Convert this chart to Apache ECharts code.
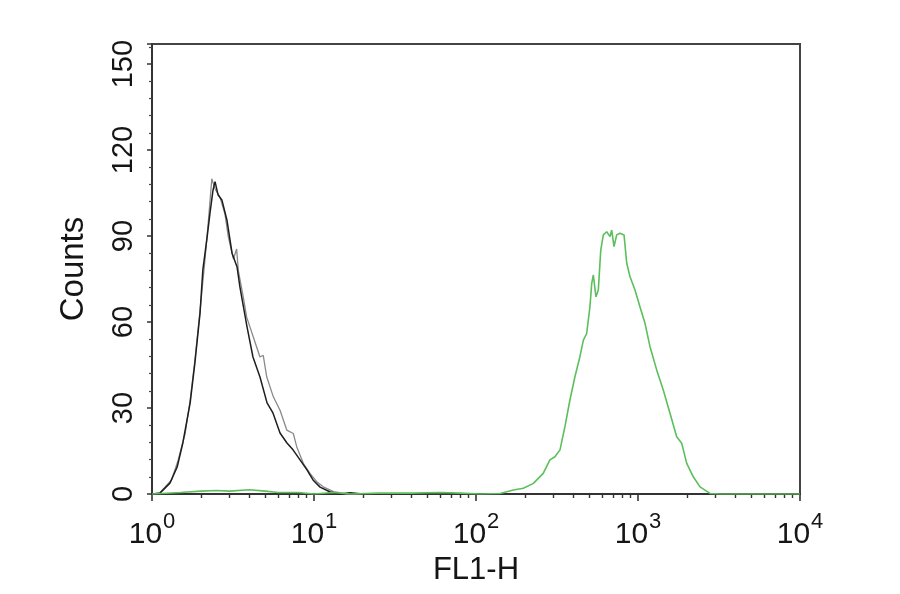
<!DOCTYPE html>
<html>
<head>
<meta charset="utf-8">
<script src="https://cdn.jsdelivr.net/npm/echarts@6/dist/echarts.min.js"></script>
<style>html,body{margin:0;padding:0;background:#fff}#c{width:900px;height:594px}</style>
</head>
<body>
<div id="c"></div>
<script>
// FL1-H values (x) and counts (y)
const blackX = [1.01,1.12,1.29,1.43,1.55,1.72,1.84,1.98,2.06,2.19,2.28,2.38,2.45,2.56,2.70,2.90,3.12,3.35,3.49,3.86,4.20,4.64,5.13,5.58,6.17,6.81,7.42,8.20,9.05,9.86,10.9,12.6,14.5,16.7,20];
const blackY = [0,0.3,3.8,9.4,17.8,31.8,45.7,63.2,78.2,89.7,98,106,109,104.3,102.6,95.6,84,79.2,72.2,58.3,47.8,40.8,31.8,28.3,21.3,17.8,15.4,11.9,8.4,4.9,2.4,0.7,0,0.4,0];
const grayX = [1.02,1.12,1.32,1.45,1.60,1.72,1.84,1.98,2.12,2.23,2.34,2.45,2.63,2.82,2.96,3.18,3.33,3.41,3.66,3.84,4.22,4.64,4.86,5.11,5.61,6.17,6.79,7.45,7.82,8.59,9.44,10.4,11.4,13.2,15.9,20];
const grayY = [0,0.5,4.9,11.8,21,32.7,46.7,64,81.4,95.4,110,106.4,103.5,97.7,89.6,82,85.5,78,68.7,61.7,54.8,47.8,48.4,40.8,33.9,29.2,22.3,21.1,16.5,10.7,7.2,4.3,2.5,0.8,0,0];
const greenX = [1,1.5,2,2.5,3,4,5,6,8,10,13,17,25,40,60,80,106,141,170,196,226,260,286,307,330,354,380,408,438,460,482,505,518,530,550,569,589,611,641,672,688,711,739,774,820,852,893,958,1028,1104,1186,1304,1432,1576,1733,1861,1999,2194,2414,2782,3208,5000,10000];
const greenY = [0,0.5,1,1.2,1,1.5,1,0.5,0.5,0,0.5,0,0.3,0.3,0.5,0.3,0,0.2,1.4,2,3.7,7.2,11.9,13,15.4,23.5,32.8,40.9,47.9,53.7,56,65.3,73.5,76.4,68.8,71.2,85.1,90.4,91.5,89.8,92.1,86.3,90.4,91,90.4,80.5,75.8,71.2,65.3,59.6,51.4,43.3,36.3,28.2,20,17.7,10.7,6,2.5,0.2,0,0,0];
const xMinorTicks = [2,3,4,5,6,7,8,9,20,30,40,50,60,70,80,90,200,300,400,500,600,700,800,900,2000,3000,4000,5000,6000,7000,8000,9000];
const yTicks = [0,30,60,90,120,150];

const zip = (xs, ys) => xs.map((x, i) => [x, ys[i]]);
const FONT = "'Liberation Sans', Arial, Helvetica, sans-serif";
const TXT = '#151515';

const chart = echarts.init(document.getElementById('c'));
chart.setOption({
  animation: false,
  backgroundColor: '#fff',
  grid: { left: 152, right: 100, top: 44, bottom: 100, show: true, borderColor: '#444', borderWidth: 2, backgroundColor: 'transparent' },
  xAxis: [{
    type: 'log', logBase: 10, min: 1, max: 10000,
    name: 'FL1-H', nameLocation: 'middle', nameGap: 61,
    nameTextStyle: { fontFamily: FONT, fontSize: 31, color: TXT, verticalAlign: 'top' },
    axisLine: { show: true, lineStyle: { color: '#333', width: 2 } },
    axisTick: { show: true, length: 7, lineStyle: { color: '#333', width: 1.6 } },
    splitLine: { show: false },
    axisLabel: {
      margin: 17, color: TXT, fontFamily: FONT,
      formatter: v => '{b|10}{s|' + Math.round(Math.log10(v)) + '}',
      rich: {
        b: { fontSize: 30, fontFamily: FONT, color: TXT },
        s: { fontSize: 22, fontFamily: FONT, color: TXT, padding: [0, 0, 25, 1] }
      }
    }
  }, {
    // minor log ticks, placed on a decade scale (log10 of each tick value)
    type: 'value', min: 0, max: 4, position: 'bottom', gridIndex: 0,
    axisLine: { show: false },
    axisLabel: { show: false },
    splitLine: { show: false },
    axisTick: { show: true, length: 4, customValues: xMinorTicks.map(v => Math.log10(v)), lineStyle: { color: '#333', width: 1.4 } }
  }],
  yAxis: {
    type: 'value', min: 0, max: 157, interval: 30,
    name: 'Counts', nameLocation: 'middle', nameGap: 62, nameRotate: 90,
    nameTextStyle: { fontFamily: FONT, fontSize: 33, color: TXT },
    axisLine: { show: true, lineStyle: { color: '#333', width: 2 } },
    axisTick: { show: true, length: 5, lineStyle: { color: '#333', width: 1.5 } },
    minorTick: { show: true, splitNumber: 5, length: 3, lineStyle: { color: '#444', width: 1.2 } },
    splitLine: { show: false },
    axisLabel: {
      rotate: 90, margin: 14, fontSize: 29, fontFamily: FONT, color: TXT,
      showMaxLabel: false,
      formatter: v => (yTicks.indexOf(v) >= 0 ? String(v) : '')
    }
  },
  series: [
    { name: 'isotype', type: 'line', xAxisIndex: 0, data: zip(grayX, grayY), showSymbol: false, lineStyle: { color: '#8a8a8a', width: 1.3 }, z: 2 },
    { name: 'control', type: 'line', xAxisIndex: 0, data: zip(blackX, blackY), showSymbol: false, lineStyle: { color: '#1e1e1e', width: 1.5 }, z: 3 },
    { name: 'stained', type: 'line', xAxisIndex: 0, data: zip(greenX, greenY), showSymbol: false, lineStyle: { color: '#5cbf5c', width: 1.6 }, z: 4 }
  ]
});
</script>
</body>
</html>
